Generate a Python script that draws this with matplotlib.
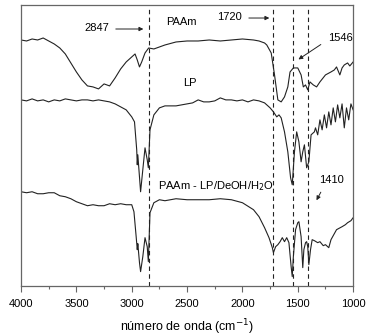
import matplotlib.pyplot as plt
from matplotlib.ticker import MultipleLocator

plt.rcParams['font.family'] = ['Liberation Sans', 'DejaVu Sans']

# espectros FTIR (unidades arbitrarias, curvas desplazadas)
wn_paam = [4000, 3950, 3900, 3850, 3800, 3750, 3700, 3650, 3600, 3550, 3500, 3450, 3400,
           3350, 3300, 3250, 3200, 3150, 3100, 3050, 3000, 2970, 2950, 2930, 2910, 2880,
           2847, 2800, 2700, 2600, 2500, 2400, 2300, 2200, 2100, 2000, 1900, 1850, 1800,
           1780, 1740, 1710, 1680, 1650, 1620, 1590, 1570, 1540, 1500, 1470, 1450, 1430,
           1410, 1390, 1360, 1330, 1300, 1250, 1200, 1170, 1150, 1120, 1100, 1080, 1050,
           1030, 1000]
t_paam = [246, 245, 247, 246, 248, 245, 242, 238, 232, 223, 214, 206, 200,
          199, 197, 202, 200, 208, 217, 224, 229, 232, 226, 219, 224, 233,
          238, 237, 241, 244, 245, 245, 246, 245, 246, 247, 246, 245, 243,
          241, 233, 211, 186, 184, 189, 199, 214, 218, 218, 211, 199, 201,
          196, 204, 201, 199, 204, 211, 214, 216, 219, 211, 218, 221, 223,
          220, 224]

wn_lp = [4000, 3950, 3900, 3850, 3800, 3750, 3700, 3650, 3600, 3550, 3500, 3450, 3400,
         3350, 3300, 3250, 3200, 3150, 3100, 3050, 3000, 2975, 2955, 2950, 2945, 2920,
         2900, 2880, 2860, 2850, 2835, 2800, 2750, 2700, 2600, 2500, 2450, 2400, 2350,
         2300, 2250, 2200, 2150, 2100, 2050, 2000, 1950, 1900, 1850, 1800, 1750, 1720,
         1690, 1670, 1650, 1620, 1590, 1565, 1550, 1530, 1510, 1490, 1470, 1455, 1440,
         1420, 1400, 1380, 1350, 1340, 1320, 1300, 1280, 1260, 1240, 1220, 1200, 1180,
         1160, 1140, 1120, 1100, 1080, 1060, 1040, 1020, 1000]
t_lp = [186, 185, 187, 185, 186, 184, 186, 185, 187, 186, 185, 186, 186,
        185, 186, 185, 184, 182, 179, 176, 169, 164, 136, 121, 131, 94,
        116, 138, 126, 118, 156, 171, 178, 180, 180, 182, 183, 186, 184,
        184, 185, 188, 186, 186, 185, 186, 184, 186, 185, 183, 178, 174,
        169, 171, 168, 154, 134, 108, 101, 134, 154, 144, 124, 134, 141,
        118, 124, 151, 154, 158, 151, 166, 156, 171, 158, 174, 161, 178,
        164, 181, 168, 182, 158, 178, 166, 182, 176]

wn_mix = [4000, 3950, 3900, 3850, 3800, 3750, 3700, 3650, 3600, 3550, 3500, 3450, 3400,
          3350, 3300, 3250, 3200, 3150, 3100, 3050, 3000, 2980, 2960, 2950, 2945, 2930,
          2920, 2900, 2880, 2860, 2850, 2835, 2800, 2750, 2700, 2600, 2500, 2400, 2300,
          2200, 2100, 2000, 1900, 1850, 1800, 1760, 1730, 1720, 1700, 1680, 1660, 1640,
          1620, 1600, 1580, 1560, 1550, 1540, 1520, 1500, 1490, 1470, 1455, 1445, 1430,
          1420, 1410, 1400, 1385, 1370, 1350, 1320, 1300, 1270, 1250, 1220, 1200, 1170,
          1150, 1100, 1070, 1050, 1020, 1000]
t_mix = [94, 93, 94, 92, 92, 93, 93, 90, 89, 87, 84, 82, 80,
         81, 80, 80, 82, 81, 82, 81, 81, 74, 49, 36, 42, 23,
         14, 29, 48, 39, 24, 73, 83, 86, 85, 87, 86, 86, 86,
         87, 86, 83, 76, 69, 58, 48, 38, 33, 39, 41, 44, 48,
         44, 48, 43, 19, 9, 29, 56, 63, 64, 49, 18, 36, 43,
         44, 39, 21, 36, 46, 45, 43, 44, 40, 41, 38, 46, 52,
         56, 59, 61, 63, 65, 68]

bandas = [2847, 1720, 1546, 1410]

fig = plt.figure(figsize=(3.69, 3.36), dpi=100)
ax = fig.add_axes([0.057, 0.150, 0.900, 0.835])

for wn, t in [(wn_paam, t_paam), (wn_lp, t_lp), (wn_mix, t_mix)]:
    ax.plot(wn, t, color='#222222', lw=0.8)

for b in bandas:
    ax.axvline(b, ymax=0.99, color='#222222', lw=0.8, linestyle=(0, (4, 3)))

ax.set_xlim(4000, 1000)
ax.set_ylim(0, 281)
ax.xaxis.set_major_locator(MultipleLocator(500))
ax.xaxis.set_minor_locator(MultipleLocator(250))
ax.set_yticks([])
ax.tick_params(axis='x', which='major', length=4, width=0.8, color='#666666',
               labelsize=8, pad=6)
ax.tick_params(axis='x', which='minor', length=2.5, width=0.8, color='#666666')
for s in ax.spines.values():
    s.set_color('#666666')
    s.set_linewidth(0.9)
ax.set_xlabel('número de onda (cm$^{-1}$)', fontsize=9, labelpad=6)

fs = 8
ax.text(3313, 258, '2847', fontsize=fs, ha='center', va='center')
ax.annotate('', xy=(2870, 257), xytext=(3169, 257),
            arrowprops=dict(arrowstyle='-|>', color='#222222', lw=0.7, mutation_scale=6))
ax.text(2554, 264, 'PAAm', fontsize=fs, ha='center', va='center')
ax.text(2121, 269, '1720', fontsize=fs, ha='center', va='center')
ax.annotate('', xy=(1732, 268), xytext=(1967, 268),
            arrowprops=dict(arrowstyle='-|>', color='#222222', lw=0.7, mutation_scale=6))
ax.text(1118, 248, '1546', fontsize=fs, ha='center', va='center')
ax.annotate('', xy=(1515, 225), xytext=(1271, 243),
            arrowprops=dict(arrowstyle='-|>', color='#222222', lw=0.7, mutation_scale=6))
ax.text(2473, 203, 'LP', fontsize=fs, ha='center', va='center')
ax.text(2762, 100, 'PAAm - LP/DeOH/H$_2$O', fontsize=fs, ha='left', va='center')
ax.text(1199, 106, '1410', fontsize=fs, ha='center', va='center')
ax.annotate('', xy=(1343, 83), xytext=(1280, 96),
            arrowprops=dict(arrowstyle='-|>', color='#222222', lw=0.7, mutation_scale=6))

fig.savefig('out.png', dpi=100)
